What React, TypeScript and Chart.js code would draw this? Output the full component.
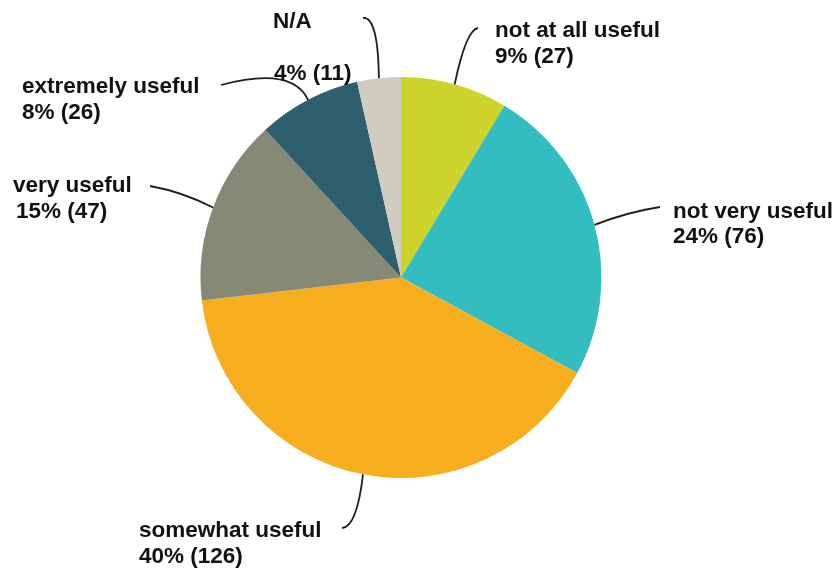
import React, { useEffect, useRef } from "react";
import { Chart, registerables } from "chart.js";

Chart.register(...registerables);

const categories = [
  "not at all useful",
  "not very useful",
  "somewhat useful",
  "very useful",
  "extremely useful",
  "N/A",
];
const counts = [27, 76, 126, 47, 26, 11];
const sliceColors = ["#CDD32B", "#33BDC0", "#F6AE1F", "#878977", "#2D5F6C", "#D0CDC0"];

// label layout: text x, baselines of two lines, leader start, leader control
const labelLayout = [
  { x: 495, x2: 495, y1: 37, y2: 63, sx: 478, sy: 28, cx: 466, cy: 30 },
  { x: 673, x2: 673, y1: 218, y2: 243, sx: 660, sy: 207, cx: 628, cy: 212 },
  { x: 139, x2: 139, y1: 537, y2: 563, sx: 342, sy: 528, cx: 357, cy: 527 },
  { x: 13, x2: 16, y1: 192, y2: 218, sx: 150, sy: 186, cx: 183, cy: 192 },
  { x: 22, x2: 22, y1: 93, y2: 119, sx: 221, sy: 85, cx: 292, cy: 66 },
  { x: 273, x2: 274, y1: 28, y2: 80, sx: 363, sy: 18, cx: 378, cy: 16 },
];

const labelPlugin = {
  id: "leaderLabels",
  afterDatasetsDraw(chart: any) {
    const ctx = chart.ctx;
    const meta = chart.getDatasetMeta(0);
    const data = chart.data.datasets[0].data as number[];
    const total = data.reduce((a, b) => a + b, 0);
    ctx.save();
    ctx.strokeStyle = "#1e1e1e";
    ctx.lineWidth = 1.8;
    meta.data.forEach((arc: any, i: number) => {
      const p = arc.getProps(["x", "y", "startAngle", "endAngle", "outerRadius"], true);
      const mid = (p.startAngle + p.endAngle) / 2;
      const ex = p.x + Math.cos(mid) * p.outerRadius;
      const ey = p.y + Math.sin(mid) * p.outerRadius;
      const l = labelLayout[i];
      ctx.beginPath();
      ctx.moveTo(l.sx, l.sy);
      ctx.quadraticCurveTo(l.cx, l.cy, ex, ey);
      ctx.stroke();
    });
    ctx.fillStyle = "#111111";
    ctx.font = "bold 22.5px 'Liberation Sans', Arial, sans-serif";
    ctx.textBaseline = "alphabetic";
    ctx.textAlign = "left";
    categories.forEach((c, i) => {
      const l = labelLayout[i];
      const pct = Math.round((data[i] / total) * 100);
      ctx.fillText(c, l.x, l.y1);
      ctx.fillText(`${pct}% (${data[i]})`, l.x2, l.y2);
    });
    ctx.restore();
  },
};

export default function App() {
  const ref = useRef<HTMLCanvasElement>(null);
  useEffect(() => {
    if (!ref.current) return;
    const chart = new Chart(ref.current, {
      type: "pie",
      data: {
        labels: categories,
        datasets: [
          {
            data: counts,
            backgroundColor: sliceColors,
            borderWidth: 0,
          },
        ],
      },
      options: {
        responsive: false,
        animation: false,
        layout: { padding: { left: 200, right: 233, top: 77, bottom: 91 } },
        plugins: {
          legend: { display: false },
          tooltip: { enabled: false },
        },
      },
      plugins: [labelPlugin],
    });
    return () => chart.destroy();
  }, []);
  return (
    <div style={{ position: "fixed", left: 0, top: 0, width: 835, height: 569, background: "#fff" }}>
      <canvas ref={ref} width={835} height={569} style={{ width: 835, height: 569 }} />
    </div>
  );
}
